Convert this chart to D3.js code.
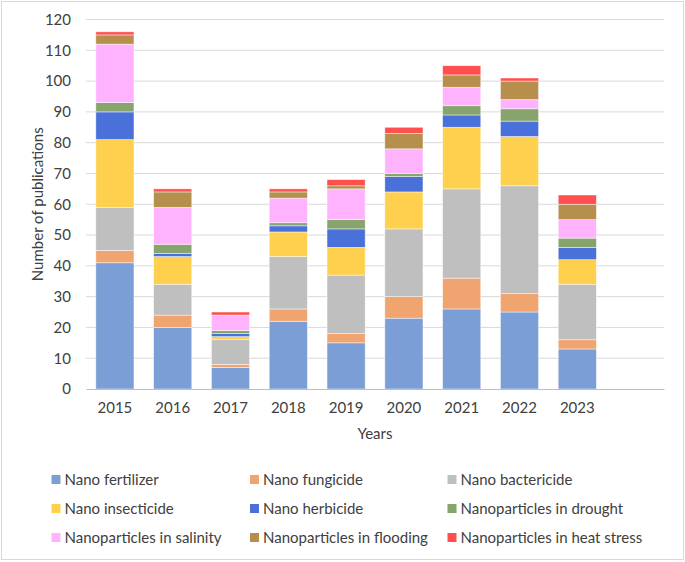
<!DOCTYPE html>
<html><head><meta charset="utf-8">
<script src="https://cdn.jsdelivr.net/npm/d3@7"></script>
<style>
html,body{margin:0;padding:0;background:#fff;}
svg{display:block;font-family:Lato,"Open Sans",sans-serif;}
</style></head>
<body><svg id="chart" width="685" height="562"></svg>
<script>
const categories = ["2015","2016","2017","2018","2019","2020","2021","2022","2023"];
const seriesNames = ["Nano fertilizer","Nano fungicide","Nano bactericide","Nano insecticide","Nano herbicide","Nanoparticles in drought","Nanoparticles in salinity","Nanoparticles in flooding","Nanoparticles in heat stress"];
const nanoFertilizer  = [41,20,7,22,15,23,26,25,13];
const nanoFungicide   = [4,4,1,4,3,7,10,6,3];
const nanoBactericide = [14,10,8,17,19,22,29,35,18];
const nanoInsecticide = [22,9,1,8,9,12,20,16,8];
const nanoHerbicide   = [9,1,1,2,6,5,4,5,4];
const npDrought       = [3,3,1,1,3,1,3,4,3];
const npSalinity      = [19,12,5,8,10,8,6,3,6];
const npFlooding      = [3,5,0,2,1,5,4,6,5];
const npHeat          = [1,1,1,1,2,2,3,1,3];
const yTicks = [0,10,20,30,40,50,60,70,80,90,100,110,120];
const colors = ["#7C9ED6","#F0A570","#BFBFBF","#FFD04D","#4A70D9","#86A46C","#FFB3FF","#B58F4B","#FF4F4F"];

(function(){
const seriesValues = [nanoFertilizer,nanoFungicide,nanoBactericide,nanoInsecticide,nanoHerbicide,npDrought,npSalinity,npFlooding,npHeat];
const table = categories.map((c,i)=>{
  const row = {year:c};
  seriesNames.forEach((s,j)=>row[s]=seriesValues[j][i]);
  return row;
});

const svg = d3.select("#chart");
const pLeft=86, pRight=664, pTop=19.5, pBottom=389;
const textColor="#404040";

svg.append("rect").attr("x",1.5).attr("y",1.5).attr("width",682).attr("height",558)
  .attr("fill","#fff").attr("stroke","#d9d9d9").attr("stroke-width",1);

const x = d3.scaleBand().domain([...categories,"_blank"]).range([pLeft,pRight]).paddingInner(0.34).paddingOuter(0.17);
const y = d3.scaleLinear().domain([0,120]).range([pBottom,pTop]);

svg.append("g").selectAll("line").data(yTicks.filter(t=>t>0)).join("line")
  .attr("x1",pLeft).attr("x2",pRight).attr("y1",d=>y(d)).attr("y2",d=>y(d))
  .attr("stroke","#d9d9d9").attr("stroke-width",1);

const stack = d3.stack().keys(seriesNames)(table);
svg.append("g").selectAll("g").data(stack).join("g")
  .attr("fill",(d,i)=>colors[i])
  .selectAll("rect").data(d=>d.filter(p=>p[1]-p[0]>0)).join("rect")
  .attr("x",d=>x(d.data.year)).attr("width",x.bandwidth())
  .attr("y",d=>y(d[1])).attr("height",d=>y(d[0])-y(d[1]))
  .attr("stroke","#ffffff").attr("stroke-opacity",0.6).attr("stroke-width",0.75);

const yAxis = d3.axisLeft(y).tickValues(yTicks).tickSize(0).tickPadding(15);
const gy = svg.append("g").attr("transform",`translate(${pLeft},0)`).call(yAxis);
gy.select(".domain").remove();
gy.selectAll("text").attr("font-size",15).attr("fill",textColor).attr("font-family","Lato,sans-serif");

const xAxis = d3.axisBottom(x).tickSize(0).tickPadding(13).tickFormat(d=>d==="_blank"?"":d);
const gx = svg.append("g").attr("transform",`translate(0,${pBottom})`).call(xAxis);
gx.select(".domain").attr("stroke","#bfbfbf").attr("stroke-width",1.2);
gx.selectAll("text").attr("font-size",15).attr("fill",textColor).attr("font-family","Lato,sans-serif");

svg.append("text").attr("x",(pLeft+pRight)/2).attr("y",439).attr("text-anchor","middle")
  .attr("font-size",15).attr("fill",textColor).text("Years");
svg.append("text").attr("transform",`translate(38,${(pTop+pBottom)/2}) rotate(-90)`).attr("dy","0.35em")
  .attr("text-anchor","middle").attr("font-size",15).attr("fill",textColor).text("Number of publications");

const legX=[51.5,250,447.5], legY=[479.5,508.5,537.5];
const leg = svg.append("g").selectAll("g").data(seriesNames).join("g")
  .attr("transform",(d,i)=>`translate(${legX[i%3]},${legY[Math.floor(i/3)]})`);
leg.append("rect").attr("x",0).attr("y",-4.5).attr("width",9).attr("height",9).attr("fill",(d,i)=>colors[i]);
leg.append("text").attr("x",13).attr("dy","0.35em").attr("font-size",15).attr("fill",textColor).text(d=>d);
})();
</script></body></html>
